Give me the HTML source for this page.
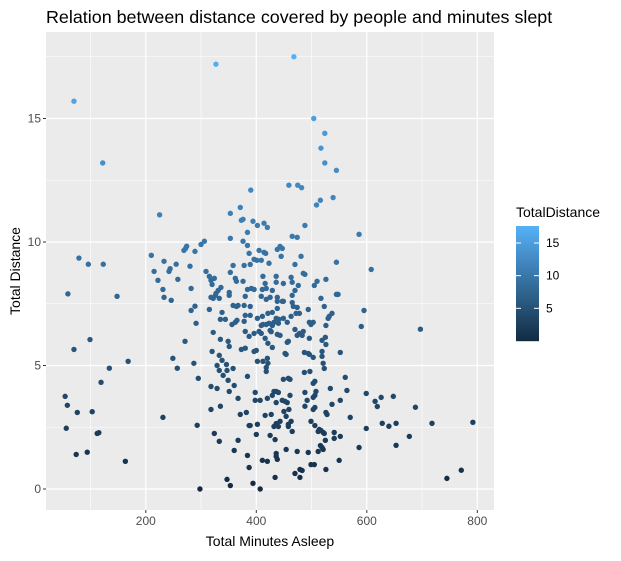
<!DOCTYPE html>
<html><head><meta charset="utf-8"><style>
body{margin:0;background:#fff;font-family:"Liberation Sans",Arial,sans-serif}
svg text{font-family:"Liberation Sans",Arial,sans-serif}
</style></head><body>
<svg id="chart" width="621" height="556" xmlns="http://www.w3.org/2000/svg">
<text x="46" y="23" font-size="17.9" fill="#000">Relation between distance covered by people and minutes slept</text>
<rect x="46" y="32" width="448" height="478" fill="#EBEBEB"/>
<g id="grid"></g>
<g id="points"></g>
<g id="axes"></g>
<text x="270" y="546" font-size="14" text-anchor="middle" fill="#000">Total Minutes Asleep</text>
<text transform="translate(20,271) rotate(-90)" font-size="14" text-anchor="middle" fill="#000">Total Distance</text>
<g id="legend"></g>
</svg>
<script>
const minutes=[70,122,327,468,504,524,517,524,545,459,475,482,539,509,225,390,
79,96,123,59,148,99,70,168,134,119,54,58,76,103,56,112,115,74,94,163,231,210,215,233,222,231,233,246,242,244,255,258,269,272,274,280,282,289,300,306,289,282,291,271,249,257,287,295,293,298,
516,371,353,373,376,394,402,414,420,488,384,353,376,384,465,474,586,387,405,414,417,438,443,447,445,481,396,401,409,389,378,358,423,470,545,608,309,353,315,324,318,320,362,364,376,412,436,463,465,449,436,416,485,488,510,505,526,476,336,331,327,384,391,396,411,418,429,470,351,351,318,326,333,322,380,409,418,425,438,438,447,449,465,465,545,548,517,358,367,378,389,364,438,467,474,472,494,523,595,315,338,335,344,380,378,389,402,411,421,429,436,441,449,456,440,429,432,418,423,412,409,463,478,496,499,503,530,532,537,526,590,356,362,365,322,380,387,396,405,409,416,421,429,425,427,438,443,470,474,478,483,485,456,458,349,351,335,496,519,525,526,320,373,380,396,400,402,412,420,421,418,418,452,454,487,494,496,503,519,519,521,523,552,333,338,329,346,333,347,340,349,358,360,318,329,351,384,449,458,461,487,497,503,506,508,503,506,488,534,561,564,552,537,526,528,503,506,492,488,599,615,619,570,599,586,550,398,432,436,440,429,461,447,452,456,436,420,398,407,367,335,318,371,382,387,389,402,416,427,450,459,454,463,458,458,432,436,440,443,465,499,506,514,517,521,512,523,541,541,552,525,516,519,521,512,474,494,454,324,333,367,400,425,434,360,384,436,436,438,411,420,387,499,505,526,470,479,483,479,434,347,353,394,407,
697,626,648,688,628,640,653,718,792,677,653,745,771];
const distance=[15.7,13.2,17.2,17.5,15.0,14.4,13.8,13.2,12.9,12.3,12.3,12.2,11.8,11.5,11.1,12.1,
9.35,9.1,9.1,7.9,7.8,6.05,5.65,5.17,4.89,4.32,3.75,3.39,3.1,3.13,2.46,2.25,2.28,1.4,1.49,1.12,2.9,9.46,8.81,9.22,8.45,8.08,7.76,7.64,8.81,8.92,9.1,8.49,9.66,9.74,9.83,9.02,8.12,9.62,9.9,10.03,7.4,7.23,6.71,5.98,5.29,4.89,5.09,4.48,2.58,0,
11.69,11.4,11.16,10.88,10.92,10.84,10.67,10.76,10.59,10.67,10.39,10.15,10.03,9.86,10.23,10.19,10.31,9.54,9.66,9.58,9.54,9.7,9.82,9.74,9.42,9.42,9.3,9.26,9.26,9.09,9.05,9.05,9.14,9.09,9.18,8.89,8.81,8.77,8.61,8.53,8.45,8.28,8.53,8.41,8.41,8.61,8.61,8.57,8.37,8.32,8.37,8.32,8.73,8.69,8.41,8.24,8.49,8.24,8.16,8.04,7.92,8.08,8.12,8.08,8.08,8.12,8.04,8.04,7.96,7.84,7.76,7.84,7.72,7.72,7.8,7.8,7.68,7.76,7.76,7.6,7.6,7.6,7.84,7.55,7.88,7.88,7.72,7.43,7.43,7.43,7.39,7.39,7.31,7.39,7.35,7.11,7.27,7.39,7.23,7.27,7.15,6.87,6.87,7.03,6.79,7.03,6.91,6.99,7.11,7.15,6.91,6.87,6.91,6.75,6.71,6.62,6.75,6.66,6.71,6.66,6.62,6.99,7.11,6.75,6.66,6.75,6.91,6.99,7.11,6.62,6.58,6.66,6.75,6.83,6.34,6.38,6.18,6.3,6.38,6.3,6.1,5.9,5.73,6.42,6.37,6.26,6.22,6.46,6.22,6.3,6.22,6.38,5.94,5.98,5.98,5.77,6.06,6.1,6.02,6.14,5.85,5.57,5.65,5.7,5.57,5.61,5.17,5.17,5.29,5.09,4.92,4.76,5.49,5.45,5.53,5.49,5.45,5.33,5.57,5.37,5.09,4.88,5.53,5.41,5.21,5.0,5.04,4.8,4.8,4.6,4.4,4.88,4.19,4.15,4.07,3.95,4.56,4.44,4.48,4.44,4.72,4.76,4.28,4.36,3.95,3.71,3.79,3.91,4.07,4.52,3.99,3.59,3.43,3.1,3.02,3.22,3.3,3.59,3.35,3.87,3.55,3.34,2.9,2.45,1.68,1.16,3.91,3.95,3.95,3.91,3.79,3.79,3.59,3.55,3.5,3.5,3.67,3.59,3.59,3.67,3.35,3.22,3.02,3.1,2.57,2.57,2.62,2.98,3.02,3.14,3.22,2.94,2.74,2.62,2.53,2.53,2.65,2.53,2.74,2.33,2.74,2.57,2.41,2.37,2.29,2.33,2.25,2.29,2.05,2.13,1.97,1.76,1.68,1.6,1.52,1.52,1.48,1.6,2.25,1.93,1.97,2.21,2.17,2.0,1.56,1.36,1.44,1.32,1.2,1.16,1.12,0.87,0.99,0.99,0.79,0.63,0.79,0.75,0.47,0.47,0.39,0.14,0.23,0,
6.47,3.71,3.75,3.31,2.66,2.54,2.66,2.66,2.7,2.13,1.77,0.43,0.76];
const xTicks=[200,400,600,800];
const xMinor=[100,300,500,700];
const yTicks=[0,5,10,15];
const yMinor=[2.5,7.5,12.5,17.5];
const legendTicks=[5,10,15];

const NS="http://www.w3.org/2000/svg";
const X0=46,X1=494,Y0=32,Y1=510;
function xs(v){return 35.3+v*0.5525;}
function ys(v){return 489-v*24.7;}
const lo=[19,43,67],hi=[86,177,247];
const cMin=0,cMax=17.6;
function col(v){let t=(v-cMin)/(cMax-cMin);t=Math.max(0,Math.min(1,t));
return 'rgb('+lo.map((a,i)=>Math.round(a+(hi[i]-a)*t)).join(',')+')';}
function mk(tag,attrs,parent){const e=document.createElementNS(NS,tag);for(const k in attrs)e.setAttribute(k,attrs[k]);parent.appendChild(e);return e;}
const grid=document.getElementById('grid');
xMinor.forEach(v=>{const l=mk('line',{x1:xs(v),x2:xs(v),y1:Y0,y2:Y1,stroke:'#fff','stroke-width':0.6},grid);

});
yMinor.forEach(v=>{const l=mk('line',{x1:X0,x2:X1,y1:ys(v),y2:ys(v),stroke:'#fff','stroke-width':0.6},grid);

});
xTicks.forEach(v=>{const l=mk('line',{x1:xs(v),x2:xs(v),y1:Y0,y2:Y1,stroke:'#fff','stroke-width':1.2},grid);

});
yTicks.forEach(v=>{const l=mk('line',{x1:X0,x2:X1,y1:ys(v),y2:ys(v),stroke:'#fff','stroke-width':1.2},grid);

});
const pts=document.getElementById('points');
minutes.forEach((m,i)=>{const c=mk('circle',{cx:xs(m),cy:ys(distance[i]),r:2.7,fill:col(distance[i])},pts);

});
const ax=document.getElementById('axes');
xTicks.forEach(v=>{const t=mk('line',{x1:xs(v),x2:xs(v),y1:Y1,y2:Y1+3,stroke:'#333','stroke-width':1},ax);


const l=mk('text',{x:xs(v),y:Y1+15,'font-size':12,'text-anchor':'middle',fill:'#4D4D4D'},ax);l.textContent=v;

});
yTicks.forEach(v=>{const t=mk('line',{x1:X0-3,x2:X0,y1:ys(v),y2:ys(v),stroke:'#333','stroke-width':1},ax);


const l=mk('text',{x:X0-5,y:ys(v)+4,'font-size':12,'text-anchor':'end',fill:'#4D4D4D'},ax);l.textContent=v;

});
const lg=document.getElementById('legend');
const lt=mk('text',{x:516,y:217,'font-size':14,fill:'#000'},lg);lt.textContent='TotalDistance';


const LT=226,LB=341;
function ly(v){return LB-(v-cMin)/(cMax-cMin)*(LB-LT);}
for(let i=0;i<115;i++){const v=cMin+(cMax-cMin)*(1-(i+0.5)/115);
const r=mk('rect',{x:516,y:LT+i,width:23,height:1.2,fill:col(v)},lg);

}
legendTicks.forEach(v=>{const a=mk('line',{x1:516,x2:521,y1:ly(v),y2:ly(v),stroke:'#fff','stroke-width':1},lg);


const b=mk('line',{x1:534,x2:539,y1:ly(v),y2:ly(v),stroke:'#fff','stroke-width':1},lg);


const l=mk('text',{x:546,y:ly(v)+4,'font-size':12,fill:'#000'},lg);l.textContent=v;

});
</script>
</body></html>
